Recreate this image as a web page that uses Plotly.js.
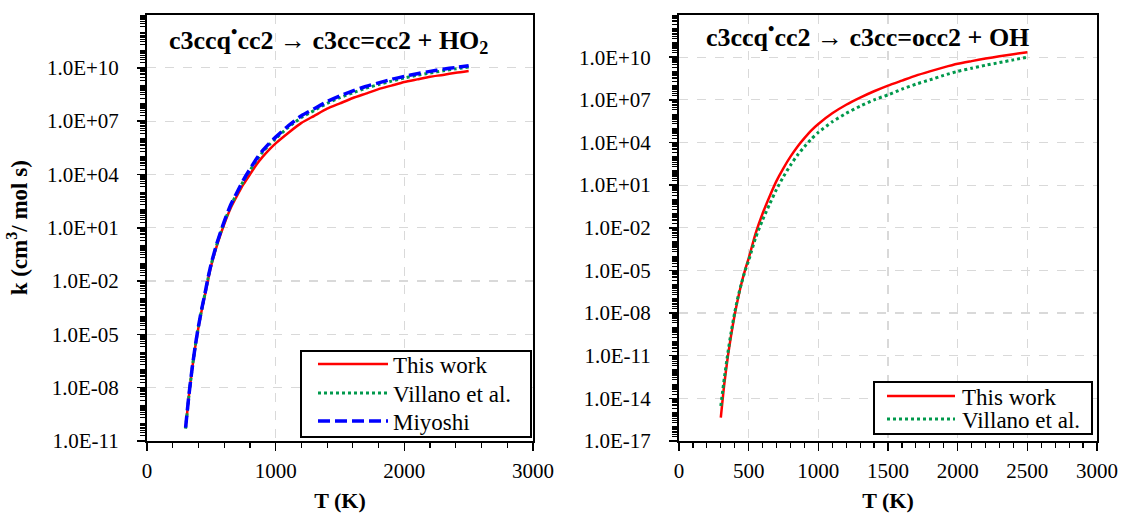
<!DOCTYPE html>
<html>
<head>
<meta charset="utf-8">
<script src="https://cdn.plot.ly/plotly-3.0.1.min.js"></script>
<style>html,body{margin:0;padding:0;background:#fff;}#chart{width:1122px;height:516px;}</style>
</head>
<body>
<div id="chart"></div>
<script>
// ---- Data ----
// Left panel: c3ccq*cc2 -> c3cc=cc2 + HO2   (T in K, log10 k)
const T_left = [300, 325, 350, 375, 400, 425, 450, 475, 500, 550, 600, 650, 700, 750, 800, 850, 900, 950, 1000, 1100, 1200, 1300, 1400, 1500, 1600, 1700, 1800, 1900, 2000, 2100, 2200, 2300, 2400, 2500];
const logk_left_thisWork = [-10.27, -8.5, -7.0, -5.7, -4.6, -3.65, -2.8, -1.9, -1.1, 0.15, 1.2, 2.1, 2.8, 3.45, 4.0, 4.55, 5.0, 5.4, 5.75, 6.35, 6.9, 7.3, 7.7, 8.0, 8.3, 8.55, 8.8, 9.0, 9.2, 9.35, 9.5, 9.6, 9.72, 9.82];
const logk_left_villano  = [-10.3, -8.5, -6.98, -5.67, -4.56, -3.6, -2.74, -1.83, -1.03, 0.24, 1.3, 2.22, 2.95, 3.63, 4.22, 4.79, 5.27, 5.67, 6.02, 6.66, 7.2, 7.6, 8.0, 8.32, 8.6, 8.85, 9.06, 9.25, 9.43, 9.58, 9.71, 9.83, 9.94, 10.04];
const logk_left_miyoshi  = [-10.25, -8.47, -6.96, -5.65, -4.54, -3.58, -2.72, -1.8, -1.0, 0.28, 1.35, 2.28, 3.0, 3.7, 4.3, 4.87, 5.35, 5.75, 6.1, 6.75, 7.3, 7.7, 8.1, 8.42, 8.7, 8.95, 9.15, 9.35, 9.52, 9.67, 9.8, 9.92, 10.02, 10.12];

// Right panel: c3ccq*cc2 -> c3cc=occ2 + OH
const T_right = [300, 325, 350, 375, 400, 425, 450, 475, 500, 550, 600, 650, 700, 750, 800, 850, 900, 950, 1000, 1100, 1200, 1300, 1400, 1500, 1600, 1700, 1800, 1900, 2000, 2100, 2200, 2300, 2400, 2500];
const logk_right_thisWork = [-15.36, -13.0, -11.1, -9.5, -8.1, -6.9, -5.85, -4.95, -4.15, -2.4, -1.0, 0.2, 1.3, 2.2, 3.0, 3.7, 4.3, 4.85, 5.3, 6.05, 6.65, 7.15, 7.6, 8.0, 8.35, 8.7, 9.0, 9.28, 9.53, 9.72, 9.9, 10.06, 10.21, 10.35];
const logk_right_villano  = [-14.54, -12.6, -10.85, -9.3, -7.95, -6.8, -5.85, -5.0, -4.3, -2.7, -1.45, -0.35, 0.7, 1.6, 2.4, 3.1, 3.7, 4.25, 4.71, 5.45, 6.05, 6.55, 7.0, 7.35, 7.75, 8.1, 8.4, 8.72, 9.0, 9.22, 9.43, 9.62, 9.81, 10.0];

// Tick labels
const xTickVals_left  = [0, 1000, 2000, 3000];
const xTickVals_right = [0, 500, 1000, 1500, 2000, 2500, 3000];
const yTickVals_left  = [1e-11, 1e-8, 1e-5, 1e-2, 1e1, 1e4, 1e7, 1e10];
const yTickText_left  = ["1.0E-11", "1.0E-08", "1.0E-05", "1.0E-02", "1.0E+01", "1.0E+04", "1.0E+07", "1.0E+10"];
const yTickVals_right = [1e-17, 1e-14, 1e-11, 1e-8, 1e-5, 1e-2, 1e1, 1e4, 1e7, 1e10];
const yTickText_right = ["1.0E-17", "1.0E-14", "1.0E-11", "1.0E-08", "1.0E-05", "1.0E-02", "1.0E+01", "1.0E+04", "1.0E+07", "1.0E+10"];

// Text
const titleLeft  = "c3ccq<sup>•</sup>cc2 → c3cc=cc2 + HO<sub>2</sub>";
const titleRight = "c3ccq<sup>•</sup>cc2 → c3cc=occ2 + OH";
const seriesNames = ["This work", "Villano et al.", "Miyoshi"];
const xTitle = "T (K)";
const yTitle = "k (cm<sup>3</sup>/ mol s)";

// ---- Helpers ----
const pow10 = a => a.map(v => Math.pow(10, v));
function minorLog(lo, hi) {
  const out = [];
  for (let e = lo; e < hi; e++) for (let m = 2; m <= 9; m++) out.push(m * Math.pow(10, e));
  for (let e = lo; e <= hi; e++) if ((e - lo) % 3 !== 0) out.push(Math.pow(10, e));
  return out;
}
function minorLin(step, major, max) {
  const out = [];
  for (let v = step; v < max; v += step) if (Math.abs(v % major) > 1e-9) out.push(v);
  return out;
}
const FONT = "Liberation Serif";

const RED = {color: "#ff0000", width: 2.5, shape: "spline", smoothing: 0.6};
const GREEN = {color: "#00994c", width: 3, dash: "dot", shape: "spline", smoothing: 0.6};
const BLUE = {color: "#0000ff", width: 3.5, dash: "12px,5px", shape: "spline", smoothing: 0.6};

const traces = [
  {x: T_left, y: pow10(logk_left_thisWork), name: seriesNames[0], mode: "lines", line: RED, xaxis: "x", yaxis: "y", legend: "legend"},
  {x: T_left, y: pow10(logk_left_villano), name: seriesNames[1], mode: "lines", line: GREEN, xaxis: "x", yaxis: "y", legend: "legend"},
  {x: T_left, y: pow10(logk_left_miyoshi), name: seriesNames[2], mode: "lines", line: BLUE, xaxis: "x", yaxis: "y", legend: "legend"},
  {x: T_right, y: pow10(logk_right_thisWork), name: seriesNames[0], mode: "lines", line: RED, xaxis: "x2", yaxis: "y2", legend: "legend2"},
  {x: T_right, y: pow10(logk_right_villano), name: seriesNames[1], mode: "lines", line: GREEN, xaxis: "x2", yaxis: "y2", legend: "legend2"}
];

const axisCommon = {
  showline: true, linecolor: "#000", linewidth: 2, mirror: true,
  ticks: "outside", ticklen: 8, tickwidth: 1.5, tickcolor: "#000",
  showgrid: true, gridcolor: "#d9d9d9", griddash: "dash", gridwidth: 1.2,
  zeroline: false, automargin: false,
  tickfont: {family: FONT, size: 21, color: "#000"}
};
const yDom = [(516 - 441) / 516, (516 - 14.5) / 516];
const minorX = (vals) => ({tickmode: "array", tickvals: vals, ticks: "outside", ticklen: 5, tickcolor: "#000", tickwidth: 1.2, showgrid: false});
const minorY = (vals) => ({tickmode: "array", tickvals: vals, ticks: "outside", ticklen: 5, tickcolor: "#000", tickwidth: 1, showgrid: false});

// legend boxes as seen in the reference (pixels): left, top, width, height, row centres
const LEG = {
  legend:  {left: 300, top: 350, w: 230, h: 86, rows: [14, 43, 71], line: [16, 70]},
  legend2: {left: 873, top: 381, w: 218, h: 52, rows: [15, 38], line: [12, 68]}
};

const layout = {
  width: 1122, height: 516,
  margin: {l: 0, r: 0, t: 0, b: 0},
  paper_bgcolor: "#fff", plot_bgcolor: "#fff",
  font: {family: FONT, color: "#000"},
  xaxis: Object.assign({}, axisCommon, {
    domain: [147 / 1122, 533 / 1122], range: [0, 3000], tickmode: "array", tickvals: xTickVals_left,
    minor: minorX(minorLin(200, 1000, 3000)), ticklabelstandoff: 2,
    anchor: "y", title: {text: "<b>" + xTitle + "</b>", font: {family: FONT, size: 22, color: "#000"}, standoff: 10}
  }),
  yaxis: Object.assign({}, axisCommon, {
    domain: yDom, type: "log", range: [-11, 13], tickmode: "array", tickvals: yTickVals_left, ticktext: yTickText_left,
    minor: minorY(minorLog(-11, 13)), ticklabelstandoff: 14,
    anchor: "x", title: {text: "<b>" + yTitle + "</b>", font: {family: FONT, size: 23, color: "#000"}, standoff: 13}
  }),
  xaxis2: Object.assign({}, axisCommon, {
    domain: [679 / 1122, 1097 / 1122], range: [0, 3000], tickmode: "array", tickvals: xTickVals_right,
    minor: minorX(minorLin(100, 500, 3000)), ticklabelstandoff: 2,
    anchor: "y2", title: {text: "<b>" + xTitle + "</b>", font: {family: FONT, size: 22, color: "#000"}, standoff: 10}
  }),
  yaxis2: Object.assign({}, axisCommon, {
    domain: yDom, type: "log", range: [-17, 13], tickmode: "array", tickvals: yTickVals_right, ticktext: yTickText_right,
    minor: minorY(minorLog(-17, 13)), ticklabelstandoff: 14,
    anchor: "x2"
  }),
  legend: {
    x: LEG.legend.left / 1122, y: (516 - LEG.legend.top) / 516, xanchor: "left", yanchor: "top",
    bgcolor: "#fff", bordercolor: "#000", borderwidth: 2,
    font: {family: FONT, size: 23, color: "#000"},
    traceorder: "normal", itemwidth: 81
  },
  legend2: {
    x: LEG.legend2.left / 1122, y: (516 - LEG.legend2.top) / 516, xanchor: "left", yanchor: "top",
    bgcolor: "#fff", bordercolor: "#000", borderwidth: 2,
    font: {family: FONT, size: 23, color: "#000"},
    traceorder: "normal", itemwidth: 77
  },
  showlegend: true,
  annotations: [
    {text: "<b>" + titleLeft + "</b>", xref: "x domain", yref: "y domain", x: (167 - 147) / 386, y: (441 - 40) / 426.5, xanchor: "left", yanchor: "middle", showarrow: false, font: {family: FONT, size: 26, color: "#000"}},
    {text: "<b>" + titleRight + "</b>", xref: "x2 domain", yref: "y2 domain", x: (704 - 679) / 418, y: (441 - 35) / 426.5, xanchor: "left", yanchor: "middle", showarrow: false, font: {family: FONT, size: 26, color: "#000"}}
  ]
};

Plotly.newPlot("chart", traces, layout, {staticPlot: true, displayModeBar: false}).then(function (gd) {
  // fit the legend boxes to the reference: longer line samples, tighter rows, box size
  Object.keys(LEG).forEach(function (cls) {
    const spec = LEG[cls];
    const g = gd.querySelector("g." + cls);
    if (!g) return;
    g.querySelectorAll(".legendlines path").forEach(function (p) {
      p.setAttribute("d", "M" + spec.line[0] + ",0h" + spec.line[1]);
    });
    g.querySelectorAll("g.traces").forEach(function (t, i) {
      const m = /translate\(\s*([-\d.]+)[ ,]+([-\d.]+)\s*\)/.exec(t.getAttribute("transform") || "");
      const x = m ? parseFloat(m[1]) : 0;
      if (i < spec.rows.length) t.setAttribute("transform", "translate(" + x + "," + spec.rows[i] + ")");
    });
    const bg = g.querySelector("rect.bg");
    if (bg) {
      bg.setAttribute("width", spec.w);
      bg.setAttribute("height", spec.h);
    }
    g.querySelectorAll("clipPath rect, rect.scrollbox-bg").forEach(function (r) { r.setAttribute("height", spec.h + 20); r.setAttribute("width", spec.w + 20); });
  });
});
</script>
</body>
</html>
